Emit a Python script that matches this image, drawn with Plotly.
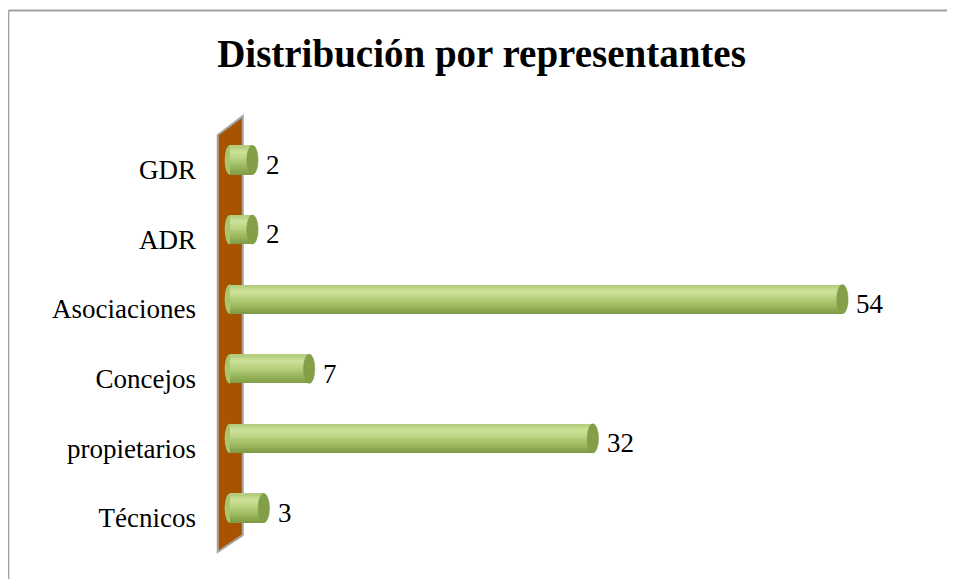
import plotly.graph_objects as go

categories = ["Técnicos", "propietarios", "Concejos", "Asociaciones", "ADR", "GDR"]
values = [3, 32, 7, 54, 2, 2]
title_text = "Distribución por representantes"

pos = list(range(len(categories)))

W, H = 955, 579
ML, MR, MT, MB = 207, 18, 106, 33
PXU = 11.346
X_RANGE = [-1.3, (W - ML - MR) / PXU - 1.3]
Y_RANGE = [-0.66, 5.66]

SERIF = "Liberation Serif, Times New Roman, serif"
half = 0.21

fig = go.Figure()

# cylinder body shading bands (bottom -> top)
stops = [(0.0, (0x7E, 0x9A, 0x45)), (0.3, (0x9D, 0xBB, 0x60)),
         (0.6, (0xBF, 0xD7, 0x87)), (0.78, (0xCC, 0xE1, 0x98)),
         (1.0, (0xB0, 0xCB, 0x78))]


def shade(t):
    for (t0, c0), (t1, c1) in zip(stops[:-1], stops[1:]):
        if t0 <= t <= t1:
            f = (t - t0) / (t1 - t0) if t1 > t0 else 0
            return "rgb(%d,%d,%d)" % tuple(round(a + (b - a) * f) for a, b in zip(c0, c1))
    return "rgb(%d,%d,%d)" % stops[-1][1]


NB = 16
step = 2 * half / NB
for k in range(NB):
    lo = -half + k * step
    fig.add_trace(go.Bar(
        x=values, y=pos, orientation="h",
        offset=lo, width=step + (0.004 if k < NB - 1 else 0),
        marker=dict(color=shade((k + 0.5) / NB), line=dict(width=0)),
        hoverinfo="skip", showlegend=False,
    ))

shapes = []
# brown back wall
wx0, wx1 = -1.06, 1.15
shapes.append(dict(
    type="path", xref="x", yref="y", layer="below",
    path=f"M {wx0},-0.63 L {wx0},5.36 L {wx1},5.63 L {wx1},-0.39 Z",
    fillcolor="#A85300", line=dict(color="#A6A6A6", width=2),
))
# rounded left ends of cylinders
for p in pos:
    shapes.append(dict(
        type="circle", xref="x", yref="y", layer="below",
        x0=-0.45, x1=0.45, y0=p - half, y1=p + half,
        fillcolor="#A9C56E", line=dict(width=0),
    ))
# right caps of cylinders
for v, p in zip(values, pos):
    shapes.append(dict(
        type="circle", xref="x", yref="y", layer="above",
        x0=v - 0.5, x1=v + 0.5, y0=p - half, y1=p + half,
        fillcolor="#83A048", line=dict(color="#7A9642", width=0.5),
    ))
# outer frame (top and left border)
px = lambda X: (X - ML) / (W - ML - MR)
py = lambda Y: (H - MB - Y) / (H - MT - MB)
shapes.append(dict(type="line", xref="paper", yref="paper",
                   x0=px(0.5), x1=px(W + 5), y0=py(2.5), y1=py(2.5),
                   line=dict(color="#A0A0A0", width=2)))
shapes.append(dict(type="line", xref="paper", yref="paper",
                   x0=px(0.5), x1=px(0.5), y0=py(2.5), y1=py(H + 5),
                   line=dict(color="#A0A0A0", width=1.6)))

annotations = []
for v, p in zip(values, pos):
    annotations.append(dict(
        x=v, y=p - 0.07, xref="x", yref="y", text=str(v),
        showarrow=False, xanchor="left", yanchor="middle", xshift=12,
        font=dict(family=SERIF, size=27, color="#000000"),
    ))

fig.update_layout(
    width=W, height=H,
    margin=dict(l=ML, r=MR, t=MT, b=MB, pad=0),
    paper_bgcolor="white", plot_bgcolor="rgba(0,0,0,0)",
    barmode="overlay", bargap=0,
    showlegend=False,
    title=dict(text=f"<b>{title_text}</b>", x=0.4958, xanchor="center",
               xref="container", yref="container", y=0.921, yanchor="middle",
               font=dict(family=SERIF, size=39, color="#000000")),
    xaxis=dict(range=X_RANGE, visible=False, showgrid=False, zeroline=False,
               fixedrange=True),
    yaxis=dict(range=Y_RANGE, tickmode="array",
               tickvals=[p - 0.14 for p in pos], ticktext=categories,
               showgrid=False, zeroline=False, showline=False, ticks="",
               ticklabelstandoff=18,
               tickfont=dict(family=SERIF, size=27, color="#000000"),
               fixedrange=True),
    shapes=shapes, annotations=annotations,
)

fig.write_html("out.html")
